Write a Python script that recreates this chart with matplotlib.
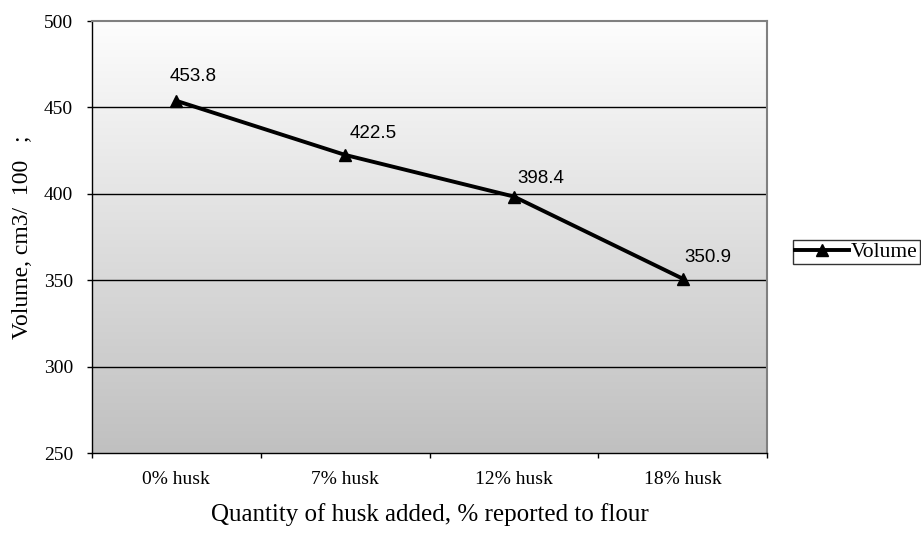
import numpy as np
import matplotlib
matplotlib.use("Agg")
import matplotlib.pyplot as plt
from matplotlib.colors import LinearSegmentedColormap

# Data
categories = ["0% husk", "7% husk", "12% husk", "18% husk"]
volume = [453.8, 422.5, 398.4, 350.9]
y_ticks = [250, 300, 350, 400, 450, 500]

# label placement (pixels from each point)
label_offsets = [(-7, 16), (4, 13), (3, 10), (2, 13)]

serif = "Liberation Serif"
sans = "Liberation Sans"

fig = plt.figure(figsize=(9.21, 5.35), dpi=100)
ax = fig.add_axes([92 / 921, 1 - 453 / 535, 675 / 921, 432 / 535])

# vertical gray gradient background of the plot area
grad = np.linspace(0, 1, 256).reshape(-1, 1)
cmap = LinearSegmentedColormap.from_list("bg", ["#c0c0c0", "#fdfdfd"])
ax.imshow(grad, aspect="auto", cmap=cmap, origin="lower",
          extent=[0, 1, 0, 1], transform=ax.transAxes, zorder=0)

x = np.arange(len(categories))
ax.set_xlim(-0.5, len(categories) - 0.5)
ax.set_ylim(y_ticks[0], y_ticks[-1])

# horizontal gridlines
for yv in y_ticks[1:-1]:
    ax.axhline(yv, color="black", lw=1.0, zorder=1)

ax.plot(x, volume, color="black", lw=2.8, marker="^", markersize=9,
        label="Volume", zorder=3, solid_joinstyle="round")

for xi, v, off in zip(x, volume, label_offsets):
    ax.annotate(f"{v:.1f}", (xi, v), xytext=off, textcoords="offset pixels",
                ha="left", va="bottom", fontsize=13.5, family=sans)

# axes styling
ax.set_yticks(y_ticks)
ax.set_yticklabels([str(t) for t in y_ticks], family=serif, fontsize=14)
ax.set_xticks(np.arange(-0.5, len(categories)))
ax.set_xticklabels([])
ax.set_xticks(x, minor=True)
ax.set_xticklabels(categories, minor=True, family=serif, fontsize=14)
ax.tick_params(axis="x", which="minor", length=0, pad=13)
ax.tick_params(axis="x", which="major", direction="out", length=3.6, width=1)
ax.tick_params(axis="y", direction="out", length=3.6, width=1, pad=10)

for side in ("top", "right"):
    ax.spines[side].set_color("#808080")
    ax.spines[side].set_linewidth(1.5)
for side in ("left", "bottom"):
    ax.spines[side].set_color("black")
    ax.spines[side].set_linewidth(1.0)

ax.set_xlabel("Quantity of husk added, % reported to flour", family=serif,
              fontsize=18, labelpad=10.5)
ax.set_ylabel("Volume, cm3/  100   ;", family=serif, fontsize=17, labelpad=8)

leg = fig.legend(loc="upper left", bbox_to_anchor=(793 / 921, 1 - 240 / 535),
                 frameon=True, fancybox=False, edgecolor="black",
                 prop={"family": serif, "size": 15.5}, borderpad=0.1,
                 handlelength=2.5, handletextpad=0.1, borderaxespad=0)
leg.get_frame().set_linewidth(1.0)

fig.savefig("out.png", dpi=100)
